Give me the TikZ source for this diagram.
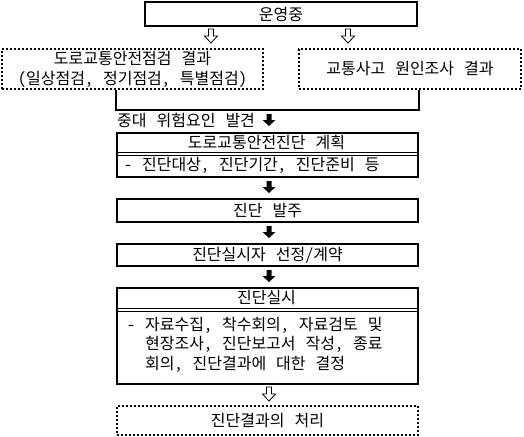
\documentclass[tikz,border=0pt]{standalone}
\usepackage{fontspec}
\setmainfont{Noto Sans CJK KR}[CharacterWidth=Half, WordSpace=1.25]
\usetikzlibrary{positioning}

\tikzset{
    box/.style={draw, line width=2pt, inner sep=0pt, anchor=north west,
        font=\fontsize{16pt}{20pt}\selectfont},
    dotbox/.style={box, dash pattern=on 2pt off 2pt, align=center},
    txt/.style={inner sep=0pt, font=\fontsize{16pt}{19.5pt}\selectfont},
    hollowarr/.pic={
        \draw[line width=0.8pt] (-2.5,0) -- (2.5,0) -- (2.5,7) -- (6.5,7)
            -- (0,14) -- (-6.5,7) -- (-2.5,7) -- cycle;
    },
    blackarr/.pic={
        \fill (-2.5,0) -- (2.5,0) -- (2.5,6) -- (6.5,6)
            -- (0,12) -- (-6.5,6) -- (-2.5,6) -- cycle;
    }
}

\begin{document}
\begin{tikzpicture}[x=1pt, y=-1pt]
    \useasboundingbox (0,0) rectangle (524,436);

    \node[box, minimum width=272pt, minimum height=24pt] (op) at (144,1.5) {운영중};
    \pic at (211,29) {hollowarr};
    \pic at (348,29) {hollowarr};

    \node[dotbox, minimum width=261pt, minimum height=40pt] (check) at (1,48)
        {도로교통안전점검 결과\\(일상점검, 정기점검, 특별점검)};
    \node[dotbox, minimum width=222pt, minimum height=40pt] (accident) at (298,48)
        {교통사고 원인조사 결과};

    \node[box, minimum width=301pt, minimum height=44pt] (plan) at (116,132) {};
    \draw[line width=0.8pt] (116,152) -- (417,152) (116,155) -- (417,155);
    \node[txt] (plantitle) at (266.5,142) {도로교통안전진단 계획};
    \node[txt, anchor=west] (planbody) at (124,165) {- 진단대상, 진단기간, 진단준비 등};

    \draw[line width=2pt] (plan.north west |- check.south) -- ++(0,20)
        -| (plan.north east |- accident.south);
    \node[txt, anchor=west] (risk) at (117,120) {중대 위험요인 발견};
    \pic at (269,114) {blackarr};

    \pic at (269,181) {blackarr};
    \node[box, minimum width=301pt, minimum height=23pt] (order) at (116,198) {진단 발주};
    \pic at (269,226) {blackarr};
    \node[box, minimum width=301pt, minimum height=22pt] (select) at (116,243) {진단실시자 선정/계약};
    \pic at (269,270) {blackarr};

    \node[box, minimum width=301pt, minimum height=96pt] (exec) at (116,287) {};
    \draw[line width=0.8pt] (116,308) -- (417,308) (116,311) -- (417,311);
    \node[txt] (exectitle) at (266.5,297.5) {진단실시};
    \node[txt, anchor=north west, align=left] (execbody) at (127,317)
        {- 자료수집, 착수회의, 자료검토 및\\
         \hphantom{- }현장조사, 진단보고서 작성, 종료\\
         \hphantom{- }회의, 진단결과에 대한 결정};

    \pic at (269,387) {hollowarr};
    \node[dotbox, minimum width=301pt, minimum height=29pt] (result) at (116,405) {진단결과의 처리};
\end{tikzpicture}
\end{document}
